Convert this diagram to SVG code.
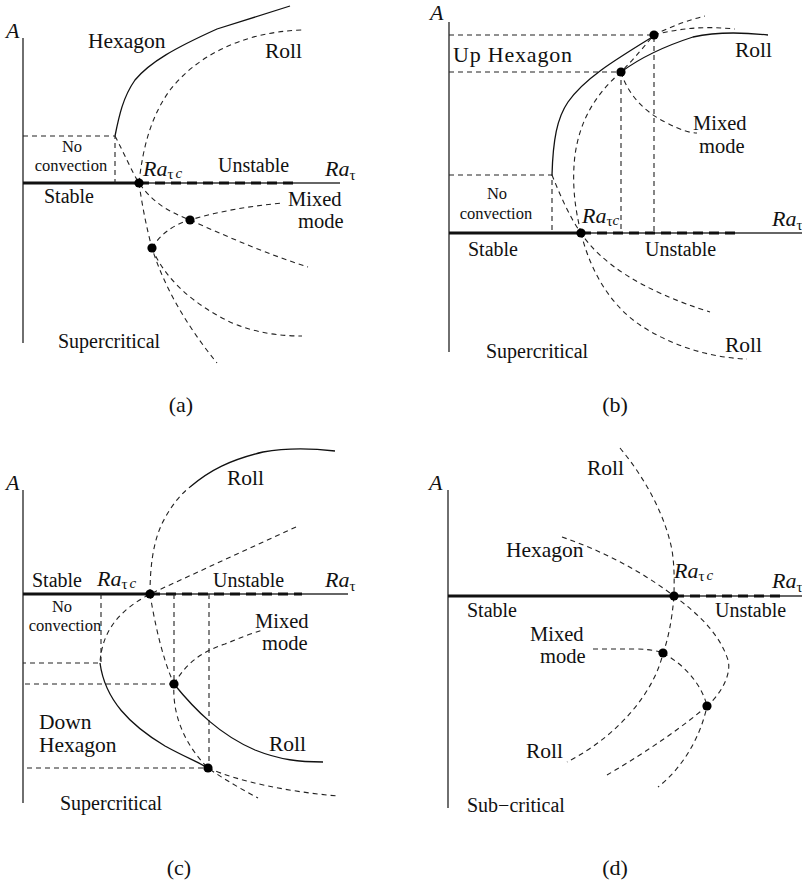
<svg xmlns="http://www.w3.org/2000/svg" width="802" height="888" viewBox="0 0 802 888">
<style>
text{font-family:"Liberation Serif","Times New Roman",serif;fill:#111}
.l{font-size:21.5px}
.mm{font-size:20.5px}
.m{font-size:20px}
.s{font-size:16.5px}
.it{font-style:italic;font-size:22px}
.sub{font-style:normal;font-size:15px}
.subi{font-style:italic;font-size:15px}
.cap{font-size:22px;text-anchor:middle}
.axis{stroke:#333;stroke-width:1.4;fill:none}
.stab{stroke:#111;stroke-width:3.2;fill:none}
.unst{stroke:#111;stroke-width:3.2;fill:none;stroke-dasharray:10 6}
.sol{stroke:#111;stroke-width:1.3;fill:none}
.dsh{stroke:#222;stroke-width:1.1;fill:none;stroke-dasharray:5 4}
.dot{fill:#000}
</style>

<!-- Panel (a) -->
<g id="panel-a">
  <g id="a-axes">
    <line class="axis" x1="23" y1="38" x2="23" y2="343"/>
    <line class="axis" x1="23" y1="183" x2="340" y2="183"/>
    <line class="stab" x1="23" y1="183" x2="139" y2="183"/>
    <line class="unst" x1="139" y1="183" x2="297" y2="183"/>
  </g>
  <g id="a-connectors">
    <path class="sol" d="M115,136 C119,116 123,97 135,80 C150,62 175,48 217,29 L290,6"/>
    <path class="dsh" d="M139,183 C143,145 152,115 170,90 C195,58 240,32 302,30"/>
    <path class="dsh" d="M23,136 L115,136 L115,183"/>
    <path class="dsh" d="M115,136 C125,155 132,172 139,183 C155,205 170,212 190,220 C230,238 270,255 308,267"/>
    <path class="dsh" d="M139,183 C142,205 147,230 152,248 C165,290 190,330 217,363"/>
    <path class="dsh" d="M152,248 C165,280 195,305 230,322 C255,333 280,336 302,336"/>
    <path class="dsh" d="M152,248 C160,235 172,225 190,220 C220,211 250,206 283,203"/>
  </g>
  <g id="a-nodes">
    <circle class="dot" cx="139" cy="183" r="4.6"/>
    <circle class="dot" cx="190" cy="220" r="4.6"/>
    <circle class="dot" cx="152" cy="248" r="4.6"/>
  </g>
  <g id="a-labels">
    <text class="it" x="6" y="38">A</text>
    <text class="l" x="88" y="48">Hexagon</text>
    <text class="l" x="265" y="58">Roll</text>
    <text class="s" x="72" y="152" text-anchor="middle">No</text>
    <text class="s" x="71" y="171" text-anchor="middle">convection</text>
    <text class="it" x="143" y="176">Ra<tspan class="sub" dy="3">τ</tspan><tspan class="subi" dx="2" dy="-1">c</tspan></text>
    <text class="m" x="218" y="172">Unstable</text>
    <text class="it" x="325" y="176">Ra<tspan class="sub" dy="4">τ</tspan></text>
    <text class="m" x="44" y="203">Stable</text>
    <text class="mm" x="288" y="206">Mixed</text>
    <text class="mm" x="298" y="228">mode</text>
    <text class="m" x="58" y="348">Supercritical</text>
    <text class="cap" x="181" y="412">(a)</text>
  </g>
</g>

<!-- Panel (b) -->
<g id="panel-b">
  <g id="b-axes">
    <line class="axis" x1="449" y1="22" x2="449" y2="352"/>
    <line class="axis" x1="449" y1="233" x2="802" y2="233"/>
    <line class="stab" x1="449" y1="233" x2="581" y2="233"/>
    <line class="unst" x1="581" y1="233" x2="740" y2="233"/>
  </g>
  <g id="b-connectors">
    <path class="dsh" d="M449,175 L552,175 L552,233"/>
    <path class="dsh" d="M449,72 L621,72 L621,233"/>
    <path class="dsh" d="M449,35 L654,35 L654,233"/>
    <path class="sol" d="M552,175 C553,140 557,118 568,102 C585,78 615,60 654,36"/>
    <path class="sol" d="M621,72 C640,58 665,46 693,37 C715,32 740,32 768,35"/>
    <path class="dsh" d="M581,233 C574,205 572,180 575,155 C580,120 595,95 621,72 C635,58 645,45 654,35 C670,27 688,20 705,16"/>
    <path class="dsh" d="M654,35 C680,28 705,26 735,29"/>
    <path class="dsh" d="M621,72 C628,95 645,112 665,122 C680,130 690,133 697,133"/>
    <path class="dsh" d="M552,175 C560,195 570,218 581,233 C600,262 640,290 710,312"/>
    <path class="dsh" d="M581,233 C590,270 610,305 640,325 C670,345 710,358 747,359"/>
  </g>
  <g id="b-nodes">
    <circle class="dot" cx="581" cy="233" r="4.6"/>
    <circle class="dot" cx="621" cy="72" r="4.6"/>
    <circle class="dot" cx="654" cy="35" r="4.6"/>
  </g>
  <g id="b-labels">
    <text class="it" x="430" y="20">A</text>
    <text class="l" x="453" y="62" style="font-size:22px;letter-spacing:0.8px">Up Hexagon</text>
    <text class="l" x="735" y="57">Roll</text>
    <text class="mm" x="693" y="130">Mixed</text>
    <text class="mm" x="699" y="153">mode</text>
    <text class="s" x="497" y="199" text-anchor="middle">No</text>
    <text class="s" x="496" y="219" text-anchor="middle">convection</text>
    <text class="it" x="582" y="223">Ra<tspan class="sub" dy="3">τ</tspan><tspan class="subi" dy="-1">c</tspan></text>
    <text class="it" x="772" y="226">Ra<tspan class="sub" dy="4">τ</tspan></text>
    <text class="m" x="468" y="256">Stable</text>
    <text class="m" x="645" y="256">Unstable</text>
    <text class="l" x="725" y="352">Roll</text>
    <text class="m" x="486" y="358">Supercritical</text>
    <text class="cap" x="615" y="412">(b)</text>
  </g>
</g>

<!-- Panel (c) -->
<g id="panel-c">
  <g id="c-axes">
    <line class="axis" x1="23" y1="490" x2="23" y2="803"/>
    <line class="axis" x1="23" y1="594" x2="348" y2="594"/>
    <line class="stab" x1="23" y1="594" x2="150" y2="594"/>
    <line class="unst" x1="150" y1="594" x2="302" y2="594"/>
  </g>
  <g id="c-connectors">
    <path class="sol" d="M190,487 C210,470 230,460 263,452 C285,448 310,448 335,451"/>
    <path class="dsh" d="M150,594 C150,560 155,535 165,518 C172,505 180,495 190,487"/>
    <path class="dsh" d="M296,527 L150,594 C120,610 102,630 100,663"/>
    <path class="sol" d="M100,663 C105,700 130,725 165,746 C185,757 200,763 208,768"/>
    <path class="dsh" d="M208,768 C240,782 290,792 338,796"/>
    <path class="dsh" d="M150,594 C155,625 163,660 174,684 C172,715 185,745 208,768 C225,780 243,790 258,798"/>
    <path class="dsh" d="M174,684 C185,665 200,652 225,644 C240,638 252,633 263,630"/>
    <path class="sol" d="M174,684 C195,710 220,735 255,750 C280,760 300,762 323,762"/>
    <path class="dsh" d="M101,594 L101,663 L23,663"/>
    <path class="dsh" d="M174,594 L174,684 L23,684"/>
    <path class="dsh" d="M209,594 L209,768 L23,768"/>
  </g>
  <g id="c-nodes">
    <circle class="dot" cx="150" cy="594" r="4.6"/>
    <circle class="dot" cx="174" cy="684" r="4.6"/>
    <circle class="dot" cx="208" cy="768" r="4.6"/>
  </g>
  <g id="c-labels">
    <text class="it" x="6" y="490">A</text>
    <text class="l" x="227" y="485">Roll</text>
    <text class="m" x="32" y="587">Stable</text>
    <text class="it" x="97" y="586">Ra<tspan class="sub" dy="3">τ</tspan><tspan class="subi" dx="2" dy="-1">c</tspan></text>
    <text class="m" x="213" y="587">Unstable</text>
    <text class="it" x="325" y="587">Ra<tspan class="sub" dy="4">τ</tspan></text>
    <text class="s" x="62" y="612" text-anchor="middle">No</text>
    <text class="s" x="65" y="631" text-anchor="middle">convection</text>
    <text class="mm" x="255" y="628">Mixed</text>
    <text class="mm" x="262" y="650">mode</text>
    <text class="l" x="39" y="729">Down</text>
    <text class="l" x="39" y="752">Hexagon</text>
    <text class="l" x="269" y="751">Roll</text>
    <text class="m" x="60" y="810">Supercritical</text>
    <text class="cap" x="179" y="875">(c)</text>
  </g>
</g>

<!-- Panel (d) -->
<g id="panel-d">
  <g id="d-axes">
    <line class="axis" x1="448" y1="490" x2="448" y2="808"/>
    <line class="axis" x1="448" y1="596" x2="802" y2="596"/>
    <line class="stab" x1="448" y1="596" x2="674" y2="596"/>
    <line class="unst" x1="674" y1="596" x2="783" y2="596"/>
  </g>
  <g id="d-connectors">
    <path class="dsh" d="M620,448 C645,478 665,515 672,550 C675,570 674,585 674,596 C672,620 668,640 663,653 C655,690 620,735 567,762"/>
    <path class="dsh" d="M562,537 C600,550 640,570 674,596 C700,615 720,635 728,660 C732,675 720,695 707,706 C700,740 680,770 658,787"/>
    <path class="dsh" d="M593,649 L633,649 C645,649 655,650 663,653"/>
    <path class="dsh" d="M663,653 C685,665 702,685 707,706"/>
    <path class="dsh" d="M707,706 C685,725 650,750 607,775"/>
  </g>
  <g id="d-nodes">
    <circle class="dot" cx="674" cy="596" r="4.6"/>
    <circle class="dot" cx="663" cy="653" r="4.6"/>
    <circle class="dot" cx="707" cy="706" r="4.6"/>
  </g>
  <g id="d-labels">
    <text class="it" x="429" y="490">A</text>
    <text class="l" x="587" y="475">Roll</text>
    <text class="l" x="506" y="557">Hexagon</text>
    <text class="it" x="674" y="578">Ra<tspan class="sub" dy="3">τ</tspan><tspan class="subi" dx="2" dy="-1">c</tspan></text>
    <text class="it" x="772" y="588">Ra<tspan class="sub" dy="4">τ</tspan></text>
    <text class="m" x="467" y="617">Stable</text>
    <text class="m" x="715" y="617">Unstable</text>
    <text class="mm" x="530" y="641">Mixed</text>
    <text class="mm" x="540" y="663">mode</text>
    <text class="l" x="526" y="758">Roll</text>
    <text class="m" x="467" y="812">Sub−critical</text>
    <text class="cap" x="615" y="875">(d)</text>
  </g>
</g>
</svg>
